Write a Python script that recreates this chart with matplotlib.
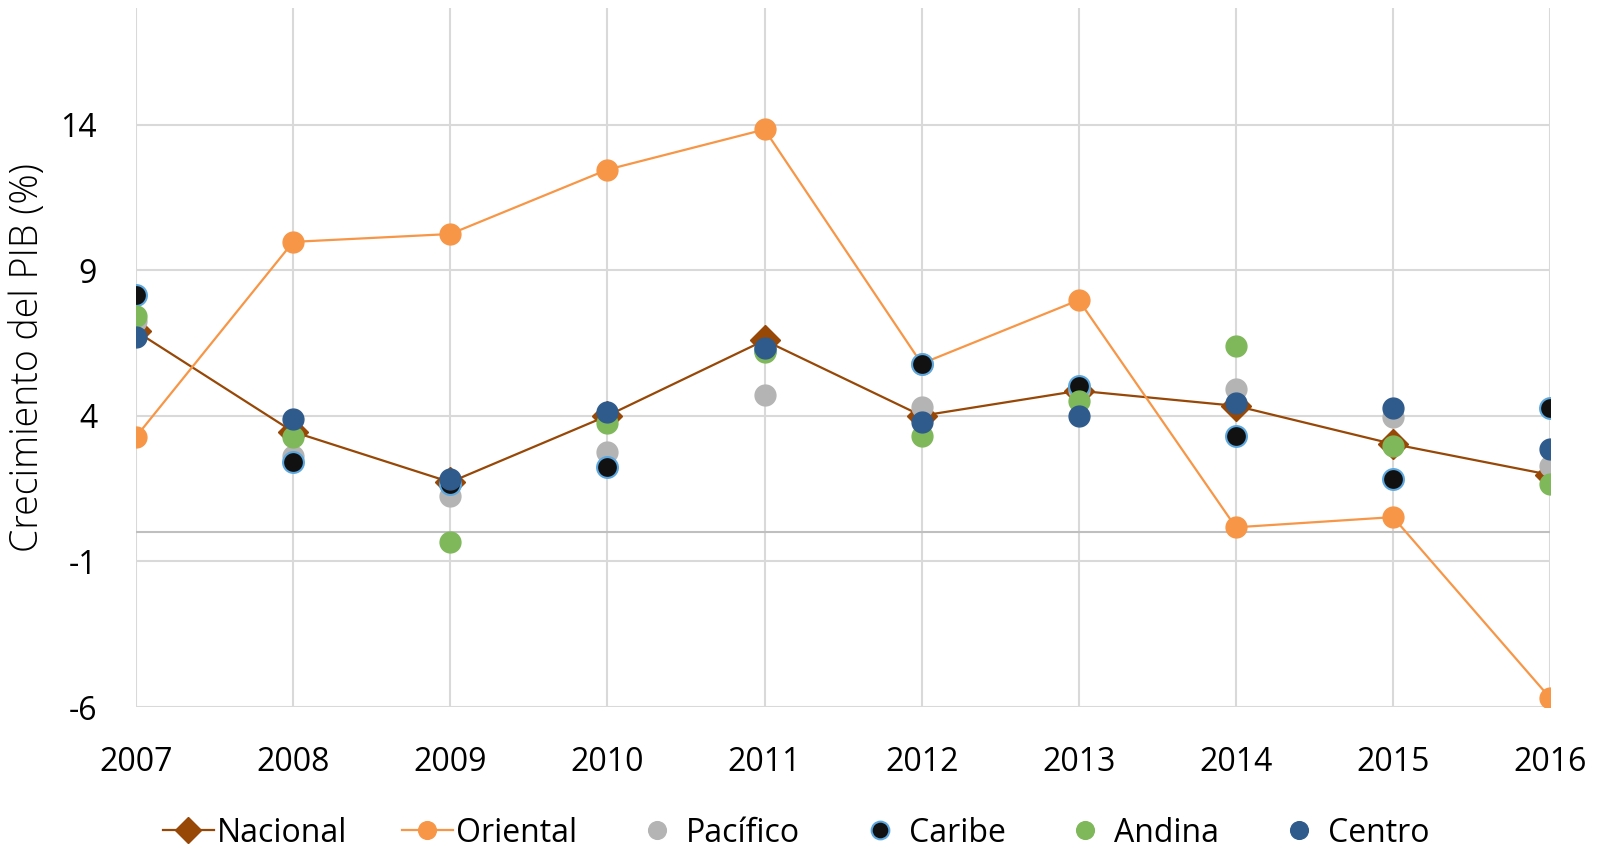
import matplotlib.pyplot as plt
import numpy as np

plt.rcParams['font.family'] = ['Open Sans', 'DejaVu Sans']
plt.rcParams['axes.unicode_minus'] = False

years = ['2007', '2008', '2009', '2010', '2011', '2012', '2013', '2014', '2015', '2016']

nacional = [6.9, 3.45, 1.72, 4.0, 6.59, 4.0, 4.86, 4.34, 3.03, 1.97]
oriental = [3.28, 9.97, 10.24, 12.45, 13.83, 5.79, 7.97, 0.17, 0.52, -5.69]
pacifico = [7.27, 2.62, 1.24, 2.76, 4.72, 4.31, 4.9, 4.93, 3.97, 2.28]
caribe = [8.14, 2.41, 1.66, 2.24, 6.25, 5.76, 5.03, 3.31, 1.83, 4.28]
andina = [7.41, 3.28, -0.34, 3.76, 6.2, 3.31, 4.52, 6.38, 2.97, 1.66]
centro = [6.72, 3.9, 1.83, 4.13, 6.31, 3.79, 4.0, 4.45, 4.28, 2.86]

x = np.arange(len(years))

fig = plt.figure(figsize=(16.08, 8.51), dpi=100)
ax = fig.add_axes([0.0846, 0.1692, 0.964 - 0.0846, 0.9906 - 0.1692])

grid_c = '#d9d9d9'
for xi in x:
    ax.axvline(xi, color=grid_c, lw=1.5, zorder=0)
for yv in [-6, -1, 4, 9, 14]:
    ax.axhline(yv, color=grid_c, lw=1.5, zorder=0)
ax.axhline(0, color='#bfbfbf', lw=1.5, zorder=0)

ms = 15
ax.plot(x, nacional, color='#974706', lw=1.6, marker='D', ms=15, label='Nacional', zorder=2)
ax.plot(x, oriental, color='#f79646', lw=1.6, marker='o', ms=ms, label='Oriental', zorder=3)
ax.plot(x, pacifico, ls='none', marker='o', ms=ms, color='#b4b4b4', label='Pacífico', zorder=4)
ax.plot(x, caribe, ls='none', marker='o', ms=ms, color='#111111', mec='#5ba7de', mew=1.5,
        label='Caribe', zorder=5)
ax.plot(x, andina, ls='none', marker='o', ms=ms, color='#7fb85a', label='Andina', zorder=6)
ax.plot(x, centro, ls='none', marker='o', ms=ms, color='#2f5b8c', label='Centro', zorder=7)

ax.set_xlim(0, 9)
ax.set_ylim(-6, 18)
ax.set_yticks([-6, -1, 4, 9, 14])
ax.set_xticks(x)
ax.set_xticklabels(years)
ax.tick_params(length=0, labelsize=23)
ax.tick_params(axis='y', pad=28)
ax.tick_params(axis='x', pad=28)
for s in ax.spines.values():
    s.set_visible(False)
ax.set_ylabel('Crecimiento del PIB (%)', fontsize=27, fontweight='light')
ax.yaxis.set_label_coords(-0.063, 0.5)

fig.legend(loc='center', bbox_to_anchor=(0.495, 1 - 833 / 851), ncol=6, frameon=False,
           fontsize=23, handlelength=1.6, handletextpad=0.1, columnspacing=1.7,
           markerscale=0.85)

fig.savefig('out.png', dpi=100, facecolor='white')
